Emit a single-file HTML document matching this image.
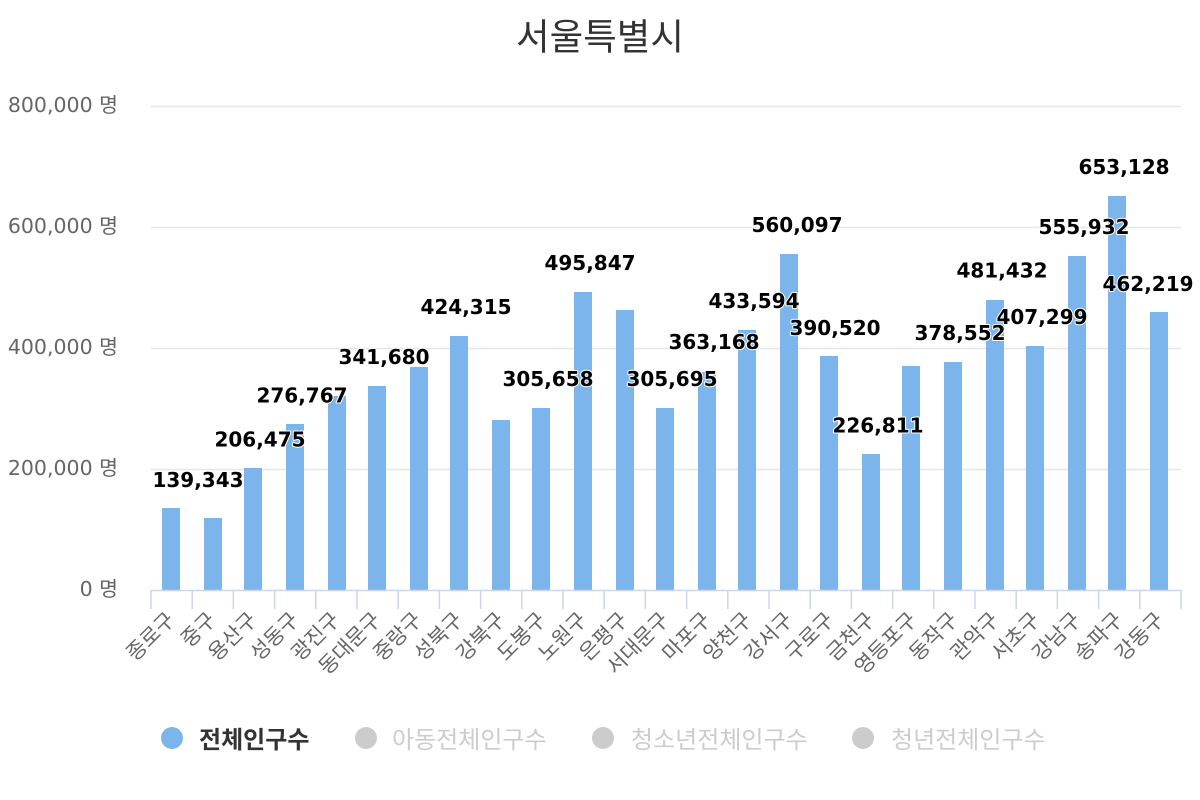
<!DOCTYPE html>
<html>
<head>
<meta charset="utf-8">
<style>
  html, body { margin: 0; padding: 0; background: #ffffff; }
  svg { display: block; }
  .ylab { font-family: "DejaVu Sans", "Noto Sans CJK KR", sans-serif; font-size: 20.5px; fill: #666666; }
  .xlab { font-family: "Noto Sans CJK KR", "DejaVu Sans", sans-serif; font-size: 21px; fill: #666666; }
  .dl { font-family: "DejaVu Sans", "Liberation Sans", sans-serif; font-size: 20px; font-weight: bold; fill: #000000; stroke: #ffffff; stroke-width: 2px; stroke-linejoin: round; paint-order: stroke; text-anchor: middle; }
  .title { font-family: "Noto Sans CJK KR", "Liberation Sans", sans-serif; font-size: 36.5px; fill: #333333; }
  .leg { font-family: "Noto Sans CJK KR", "Liberation Sans", sans-serif; font-size: 24px; }
</style>
</head>
<body>
<svg width="1200" height="800" viewBox="0 0 1200 800" xmlns="http://www.w3.org/2000/svg">
  <rect x="0" y="0" width="1200" height="800" fill="#ffffff"/>

  <!-- Title -->
  <text class="title" x="600" y="49.5" text-anchor="middle">서울특별시</text>

  <!-- Gridlines -->
  <g stroke="#e6e6e6" stroke-width="1.5">
    <line x1="151" y1="106.5" x2="1181" y2="106.5"/>
    <line x1="151" y1="227.5" x2="1181" y2="227.5"/>
    <line x1="151" y1="348.5" x2="1181" y2="348.5"/>
    <line x1="151" y1="469.5" x2="1181" y2="469.5"/>
  </g>

  <!-- Y axis labels -->
  <g class="ylab" text-anchor="end">
    <text x="118" y="112">800,000 명</text>
    <text x="118" y="233">600,000 명</text>
    <text x="118" y="354">400,000 명</text>
    <text x="118" y="475">200,000 명</text>
    <text x="118" y="596">0 명</text>
  </g>

  <!-- Bars -->
  <g fill="#7cb5ec">
    <rect x="162" y="508" width="18" height="82"/>
    <rect x="204" y="518" width="18" height="72"/>
    <rect x="244" y="468" width="18" height="122"/>
    <rect x="286" y="424" width="18" height="166"/>
    <rect x="328" y="396" width="18" height="194"/>
    <rect x="368" y="386" width="18" height="204"/>
    <rect x="410" y="367" width="18" height="223"/>
    <rect x="450" y="336" width="18" height="254"/>
    <rect x="492" y="420" width="18" height="170"/>
    <rect x="532" y="408" width="18" height="182"/>
    <rect x="574" y="292" width="18" height="298"/>
    <rect x="616" y="310" width="18" height="280"/>
    <rect x="656" y="408" width="18" height="182"/>
    <rect x="698" y="372" width="18" height="218"/>
    <rect x="738" y="330" width="18" height="260"/>
    <rect x="780" y="254" width="18" height="336"/>
    <rect x="820" y="356" width="18" height="234"/>
    <rect x="862" y="454" width="18" height="136"/>
    <rect x="902" y="366" width="18" height="224"/>
    <rect x="944" y="362" width="18" height="228"/>
    <rect x="986" y="300" width="18" height="290"/>
    <rect x="1026" y="346" width="18" height="244"/>
    <rect x="1068" y="256" width="18" height="334"/>
    <rect x="1108" y="196" width="18" height="394"/>
    <rect x="1150" y="312" width="18" height="278"/>
  </g>

  <!-- X axis line and ticks -->
  <g stroke="#ccd6eb" stroke-width="1.5">
    <line x1="151" y1="590.5" x2="1181" y2="590.5"/>
    <line x1="151" y1="590" x2="151" y2="609"/>
    <line x1="192.2" y1="590" x2="192.2" y2="609"/>
    <line x1="233.4" y1="590" x2="233.4" y2="609"/>
    <line x1="274.6" y1="590" x2="274.6" y2="609"/>
    <line x1="315.8" y1="590" x2="315.8" y2="609"/>
    <line x1="357" y1="590" x2="357" y2="609"/>
    <line x1="398.2" y1="590" x2="398.2" y2="609"/>
    <line x1="439.4" y1="590" x2="439.4" y2="609"/>
    <line x1="480.6" y1="590" x2="480.6" y2="609"/>
    <line x1="521.8" y1="590" x2="521.8" y2="609"/>
    <line x1="563" y1="590" x2="563" y2="609"/>
    <line x1="604.2" y1="590" x2="604.2" y2="609"/>
    <line x1="645.4" y1="590" x2="645.4" y2="609"/>
    <line x1="686.6" y1="590" x2="686.6" y2="609"/>
    <line x1="727.8" y1="590" x2="727.8" y2="609"/>
    <line x1="769" y1="590" x2="769" y2="609"/>
    <line x1="810.2" y1="590" x2="810.2" y2="609"/>
    <line x1="851.4" y1="590" x2="851.4" y2="609"/>
    <line x1="892.6" y1="590" x2="892.6" y2="609"/>
    <line x1="933.8" y1="590" x2="933.8" y2="609"/>
    <line x1="975" y1="590" x2="975" y2="609"/>
    <line x1="1016.2" y1="590" x2="1016.2" y2="609"/>
    <line x1="1057.4" y1="590" x2="1057.4" y2="609"/>
    <line x1="1098.6" y1="590" x2="1098.6" y2="609"/>
    <line x1="1139.8" y1="590" x2="1139.8" y2="609"/>
    <line x1="1181" y1="590" x2="1181" y2="609"/>
  </g>

  <!-- X axis labels -->
  <g class="xlab" text-anchor="end">
    <text x="176" y="621" transform="rotate(-45 176 621)">종로구</text>
    <text x="217" y="621" transform="rotate(-45 217 621)">중구</text>
    <text x="258" y="621" transform="rotate(-45 258 621)">용산구</text>
    <text x="300" y="621" transform="rotate(-45 300 621)">성동구</text>
    <text x="341" y="621" transform="rotate(-45 341 621)">광진구</text>
    <text x="382" y="621" transform="rotate(-45 382 621)">동대문구</text>
    <text x="423" y="621" transform="rotate(-45 423 621)">중랑구</text>
    <text x="464" y="621" transform="rotate(-45 464 621)">성북구</text>
    <text x="506" y="621" transform="rotate(-45 506 621)">강북구</text>
    <text x="547" y="621" transform="rotate(-45 547 621)">도봉구</text>
    <text x="588" y="621" transform="rotate(-45 588 621)">노원구</text>
    <text x="629" y="621" transform="rotate(-45 629 621)">은평구</text>
    <text x="670" y="621" transform="rotate(-45 670 621)">서대문구</text>
    <text x="712" y="621" transform="rotate(-45 712 621)">마포구</text>
    <text x="753" y="621" transform="rotate(-45 753 621)">양천구</text>
    <text x="794" y="621" transform="rotate(-45 794 621)">강서구</text>
    <text x="835" y="621" transform="rotate(-45 835 621)">구로구</text>
    <text x="876" y="621" transform="rotate(-45 876 621)">금천구</text>
    <text x="918" y="621" transform="rotate(-45 918 621)">영등포구</text>
    <text x="959" y="621" transform="rotate(-45 959 621)">동작구</text>
    <text x="1000" y="621" transform="rotate(-45 1000 621)">관악구</text>
    <text x="1041" y="621" transform="rotate(-45 1041 621)">서초구</text>
    <text x="1082" y="621" transform="rotate(-45 1082 621)">강남구</text>
    <text x="1124" y="621" transform="rotate(-45 1124 621)">송파구</text>
    <text x="1165" y="621" transform="rotate(-45 1165 621)">강동구</text>
  </g>

  <!-- Data labels -->
  <g>
    <text class="dl" x="198" y="487">139,343</text>
    <text class="dl" x="260" y="446.5">206,475</text>
    <text class="dl" x="302" y="402.5">276,767</text>
    <text class="dl" x="384" y="364">341,680</text>
    <text class="dl" x="466" y="314">424,315</text>
    <text class="dl" x="548" y="386">305,658</text>
    <text class="dl" x="590" y="270">495,847</text>
    <text class="dl" x="672" y="386">305,695</text>
    <text class="dl" x="714" y="349">363,168</text>
    <text class="dl" x="754" y="308">433,594</text>
    <text class="dl" x="797" y="232">560,097</text>
    <text class="dl" x="835" y="335">390,520</text>
    <text class="dl" x="878" y="432.5">226,811</text>
    <text class="dl" x="960" y="340">378,552</text>
    <text class="dl" x="1002" y="277.5">481,432</text>
    <text class="dl" x="1042" y="324">407,299</text>
    <text class="dl" x="1084" y="234">555,932</text>
    <text class="dl" x="1124" y="174">653,128</text>
    <text class="dl" x="1148" y="291">462,219</text>
  </g>

  <!-- Legend -->
  <g>
    <circle cx="172" cy="738" r="11" fill="#7cb5ec"/>
    <text class="leg" x="199" y="748" font-weight="bold" fill="#333333">전체인구수</text>
    <circle cx="366" cy="738" r="11" fill="#cccccc"/>
    <text class="leg" x="392" y="748" fill="#cccccc">아동전체인구수</text>
    <circle cx="603" cy="738" r="11" fill="#cccccc"/>
    <text class="leg" x="631" y="748" fill="#cccccc">청소년전체인구수</text>
    <circle cx="863" cy="738" r="11" fill="#cccccc"/>
    <text class="leg" x="891" y="748" fill="#cccccc">청년전체인구수</text>
  </g>
</svg>
</body>
</html>
